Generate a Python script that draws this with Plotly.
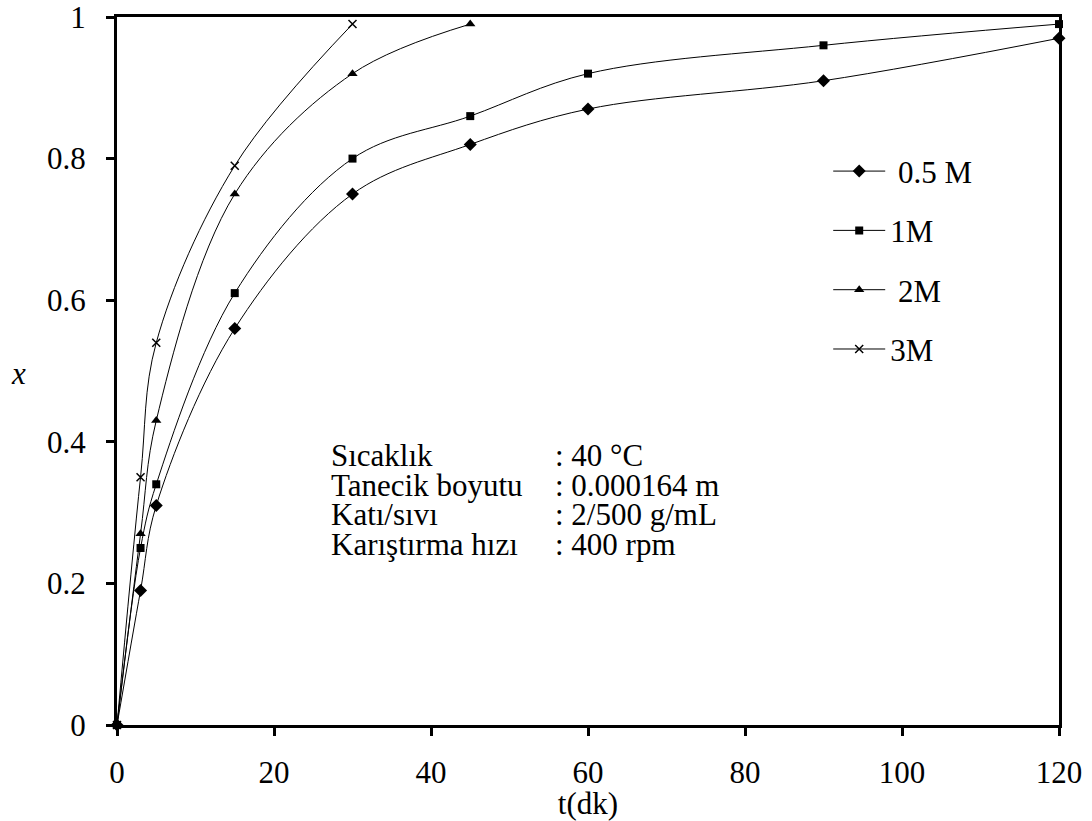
import plotly.graph_objects as go

t_a = [0, 3, 5, 15, 30, 45, 60, 90, 120]
x_05M = [0, 0.19, 0.31, 0.56, 0.75, 0.82, 0.87, 0.91, 0.97]
x_1M = [0, 0.25, 0.34, 0.61, 0.80, 0.86, 0.92, 0.96, 0.99]
t_2M = [0, 3, 5, 15, 30, 45]
x_2M = [0, 0.27, 0.43, 0.75, 0.92, 0.99]
t_3M = [0, 3, 5, 15, 30]
x_3M = [0, 0.35, 0.54, 0.79, 0.99]

series = [
    (" 0.5 M", t_a, x_05M, "diamond", 10),
    ("1M", t_a, x_1M, "square", 8),
    (" 2M", t_2M, x_2M, "triangle-up", 9),
    ("3M", t_3M, x_3M, "x-thin", 8),
]

FONT = "Liberation Serif"
FS = 31

fig = go.Figure()
for i, (name, t, x, sym, sz) in enumerate(series):
    fig.add_trace(go.Scatter(
        x=t, y=x, name=name, mode="lines+markers",
        line=dict(color="black", width=1, shape="spline", smoothing=1),
        marker=dict(symbol=sym, size=sz, color="black",
                    line=dict(color="black", width=1.5 if sym == "x-thin" else 0)),
        legendgroup=str(i), cliponaxis=False,
    ))

info_left = ["Sıcaklık", "Tanecik boyutu", "Katı/sıvı", "Karıştırma hızı"]
info_right = [": 40 °C", ": 0.000164 m", ": 2/500 g/mL", ": 400 rpm"]
info_y = [0.380, 0.338, 0.297, 0.255]

for yy, l, r in zip(info_y, info_left, info_right):
    fig.add_annotation(x=27.0, y=yy, text=l, showarrow=False, xanchor="left",
                       yanchor="middle", font=dict(size=FS, family=FONT, color="black"))
    fig.add_annotation(x=55.6, y=yy, text=r, showarrow=False, xanchor="left",
                       yanchor="middle", font=dict(size=FS, family=FONT, color="black"))

fig.add_annotation(xref="paper", yref="paper", x=-0.105, y=0.496, text="<i>x</i>",
                   showarrow=False, xanchor="center", yanchor="middle",
                   font=dict(size=FS, family=FONT, color="black"))

fig.update_layout(
    width=1092, height=821,
    margin=dict(l=117, r=33, t=17, b=96, autoexpand=False),
    paper_bgcolor="white", plot_bgcolor="white",
    font=dict(family=FONT, size=FS, color="black"),
    showlegend=True,
    legend=dict(x=0.755, y=0.82, xanchor="left", yanchor="top",
                font=dict(size=FS, family=FONT, color="black"),
                bgcolor="rgba(0,0,0,0)", tracegroupgap=16, itemwidth=52),
    xaxis=dict(range=[0, 120], tickvals=[0, 20, 40, 60, 80, 100, 120],
               showgrid=False, zeroline=False, showline=True, linecolor="black",
               linewidth=3, mirror=True, ticks="outside", ticklen=8, tickwidth=3,
               tickcolor="black", tickfont=dict(size=FS, family=FONT),
               ticklabelstandoff=10, ticklabeloverflow="allow",
               title=dict(text="t(dk)", font=dict(size=FS, family=FONT), standoff=0)),
    yaxis=dict(range=[0, 1], tickvals=[0, 0.2, 0.4, 0.6, 0.8, 1],
               ticktext=["0", "0.2", "0.4", "0.6", "0.8", "1"],
               showgrid=False, zeroline=False, showline=True, linecolor="black",
               linewidth=3, mirror=True, ticks="outside", ticklen=8, tickwidth=3,
               tickcolor="black", tickfont=dict(size=FS, family=FONT),
               ticklabelstandoff=14, ticklabeloverflow="allow"),
)

fig.write_html("out.html", config={"displayModeBar": False},
               post_script="document.body.style.margin='0px';")
